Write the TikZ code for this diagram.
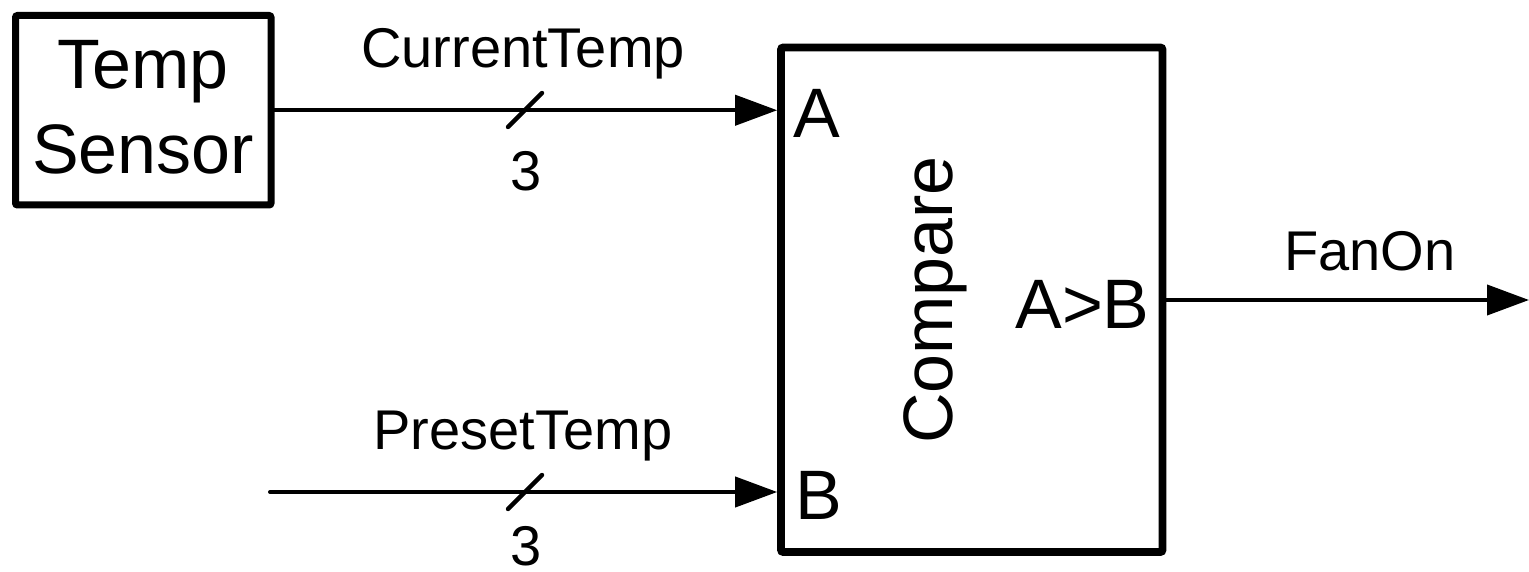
\documentclass[tikz,border=0pt]{standalone}
\usepackage{fontspec}
\setmainfont{Liberation Sans}
\usetikzlibrary{arrows.meta}
\begin{document}
\begin{tikzpicture}[x=0.5pt,y=-0.5pt,
  blockbox/.style={draw=black, line width=3.8pt, rounded corners=1pt, inner sep=0pt, fill=none},
  wire/.style={line width=2pt, line cap=round},
  arrowwire/.style={wire, -{Triangle[length=21pt,width=15pt]}},
  slashline/.style={line width=2.2pt, line cap=round},
  bigtext/.style={inner sep=0pt, font=\fontsize{35}{42.5}\selectfont},
  smalltext/.style={inner sep=0pt, font=\fontsize{28}{33}\selectfont}
]
\useasboundingbox (0,0) rectangle (1529,572);

% blocks
\node[blockbox, line width=3.5pt, minimum width=127.75pt, minimum height=94.75pt] (sensor) at (143.25,110.25) {};
\node[bigtext, align=center] (sensortext) at (143,107) {Temp\\Sensor};

\node[blockbox, minimum width=190.75pt, minimum height=252.25pt] (compare) at (971.75,299.75) {};
\node[bigtext, rotate=90, anchor=base] (comparetext) at (952,300) {Compare};
\node[bigtext, anchor=base west] (portA) at (793,138) {A};
\node[bigtext, anchor=base west] (portB) at (795,519) {B};
\node[bigtext, anchor=base east] (portAB) at (1150,328) {A>B};

% CurrentTemp bus
\coordinate (ctin) at (sensor.east);
\draw[arrowwire] (ctin) -- (ctin -| compare.west);
\coordinate (bus1) at (525,110);
\draw[slashline] ([shift={(-17,17)}]bus1) -- ([shift={(17,-17)}]bus1);
\node[smalltext, anchor=base] (ctlabel) at (523,68) {CurrentTemp};
\node[smalltext, anchor=base] (ctwidth) at (526,191) {3};

% PresetTemp bus
\coordinate (ptstart) at (270,492);
\draw[arrowwire] (ptstart) -- (ptstart -| compare.west);
\coordinate (bus2) at (525,492);
\draw[slashline] ([shift={(-17,17)}]bus2) -- ([shift={(17,-17)}]bus2);
\node[smalltext, anchor=base] (ptlabel) at (523,449) {PresetTemp};
\node[smalltext, anchor=base] (ptwidth) at (526,565) {3};

% FanOn output
\coordinate (fanend) at (1529,300);
\draw[arrowwire] (fanend -| compare.east) -- (fanend);
\node[smalltext, anchor=base] (fanlabel) at (1370,270) {FanOn};
\end{tikzpicture}
\end{document}
